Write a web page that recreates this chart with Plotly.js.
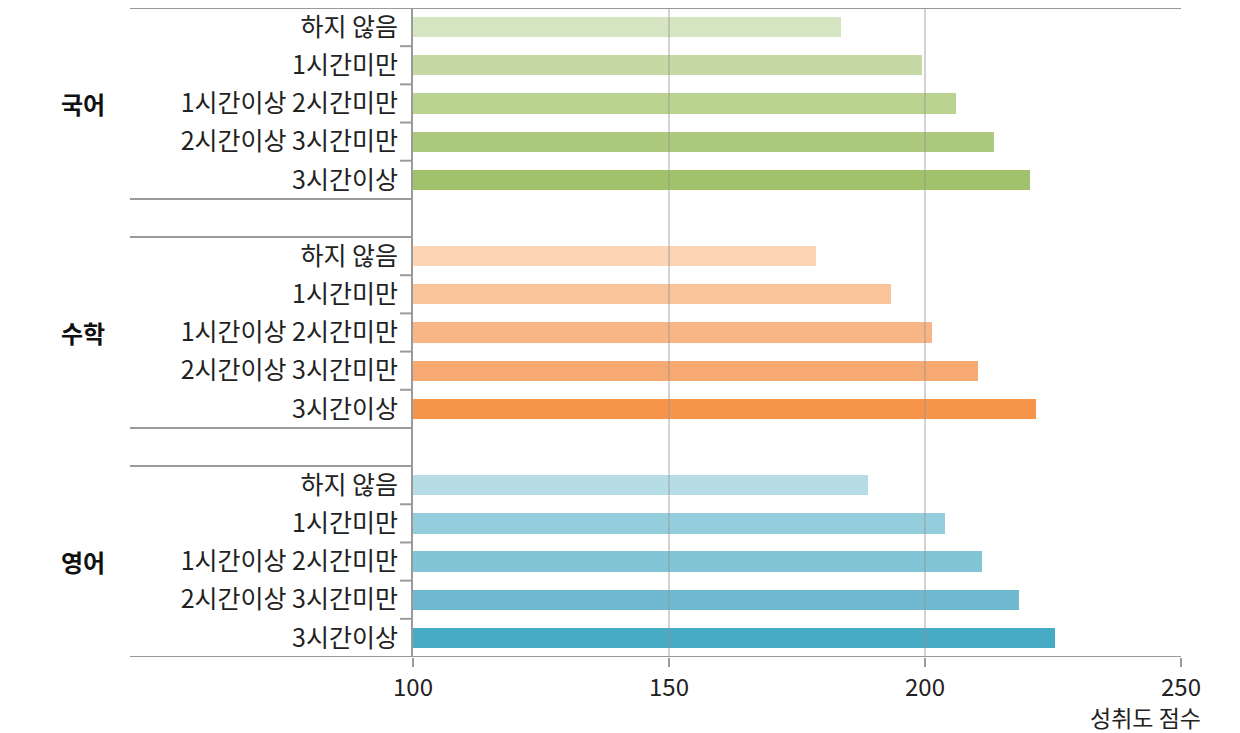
<!DOCTYPE html>
<html>
<head>
<meta charset="utf-8">
<script src="https://cdn.plot.ly/plotly-3.0.1.min.js"></script>
<style>html,body{margin:0;padding:0;background:#fff;}#chart{width:1240px;height:733px;}</style>
</head>
<body>
<div id="chart"></div>
<script>
const subjects = ['국어', '수학', '영어'];
const studyTime = ['하지 않음', '1시간미만', '1시간이상 2시간미만', '2시간이상 3시간미만', '3시간이상'];
const koreanScores = [183.6, 199.4, 206.0, 213.5, 220.5];
const mathScores = [178.7, 193.4, 201.4, 210.4, 221.7];
const englishScores = [188.9, 203.9, 211.1, 218.4, 225.4];
const xTicks = [100, 150, 200, 250];
const xAxisTitle = '성취도 점수';

const koreanColors = ['#d5e5c1', '#c5d9a4', '#bbd391', '#adc97d', '#a1c26a'];
const mathColors = ['#fbd3b5', '#fac49a', '#f8b687', '#f7a972', '#f69449'];
const englishColors = ['#b6dde6', '#94cedd', '#82c5d7', '#6fbad0', '#48abc6'];

const seriesValues = [koreanScores, mathScores, englishScores];
const seriesColors = [koreanColors, mathColors, englishColors];

const rowsPerGroup = studyTime.length + 1; // one blank row between groups
const totalRows = subjects.length * rowsPerGroup - 1;

const traces = [];
const tickvals = [];
const ticktext = [];
const shapes = [];
const annotations = [];
const lineColor = '#9a9a9a';
const leftExt = (130 - 413) / 768;
const fontFam = 'Noto Sans CJK KR';

subjects.forEach((subj, g) => {
  const start = g * rowsPerGroup;
  const ys = studyTime.map((_, i) => start + i);
  ys.forEach((y, i) => { tickvals.push(y); ticktext.push(studyTime[i]); });
  traces.push({
    type: 'bar', orientation: 'h',
    x: seriesValues[g], y: ys,
    width: 0.53,
    marker: {color: seriesColors[g], line: {width: 0}},
    name: subj, hoverinfo: 'x'
  });
  const top = start - 0.5, bot = start + studyTime.length - 0.5;
  shapes.push({type: 'line', xref: 'paper', yref: 'y', x0: leftExt, x1: g === 0 ? 1 : 0, y0: top, y1: top, line: {color: lineColor, width: 2}});
  shapes.push({type: 'line', xref: 'paper', yref: 'y', x0: leftExt, x1: g === subjects.length - 1 ? 1 : 0, y0: bot, y1: bot, line: {color: lineColor, width: 2}});
  for (let i = 1; i < studyTime.length; i++) {
    const yy = start + i - 0.5;
    shapes.push({type: 'line', xref: 'paper', yref: 'y', x0: -13 / 768, x1: 0, y0: yy, y1: yy, line: {color: lineColor, width: 2}});
  }
  annotations.push({
    xref: 'paper', yref: 'y', x: (83 - 413) / 768, y: start + 2,
    text: '<b>' + subj + '</b>', showarrow: false, xanchor: 'center', yanchor: 'middle',
    font: {family: fontFam, size: 24, color: '#111'}
  });
});

[150, 200].forEach(v => {
  shapes.push({type: 'line', xref: 'x', yref: 'paper', x0: v, x1: v, y0: 0, y1: 1, layer: 'above', line: {color: 'rgba(150,150,150,0.55)', width: 1.5}});
});

annotations.push({
  xref: 'paper', yref: 'paper', x: (1203 - 413) / 768, y: 0, yshift: -60,
  text: xAxisTitle, showarrow: false, xanchor: 'right', yanchor: 'middle',
  font: {family: fontFam, size: 23, color: '#222'}
});

const layout = {
  width: 1240, height: 733,
  margin: {l: 413, r: 59, t: 8, b: 76},
  paper_bgcolor: '#fff', plot_bgcolor: '#fff',
  showlegend: false,
  bargap: 0,
  font: {family: fontFam, color: '#222'},
  xaxis: {
    range: [100, 250], tickvals: xTicks, ticktext: xTicks.map(String),
    showgrid: false, zeroline: false, showline: false,
    ticks: 'outside', ticklen: 9, tickwidth: 2, tickcolor: lineColor,
    tickfont: {family: fontFam, size: 24, color: '#222'}
  },
  yaxis: {
    range: [totalRows - 0.5, -0.5], tickvals: tickvals, ticktext: ticktext,
    showgrid: false, zeroline: false, showline: true, linecolor: lineColor, linewidth: 2,
    ticks: '', ticklabelstandoff: 8,
    tickfont: {family: fontFam, size: 25, color: '#222'}
  },
  shapes: shapes,
  annotations: annotations
};

Plotly.newPlot('chart', traces, layout, {displayModeBar: false, staticPlot: true});
</script>
</body>
</html>
